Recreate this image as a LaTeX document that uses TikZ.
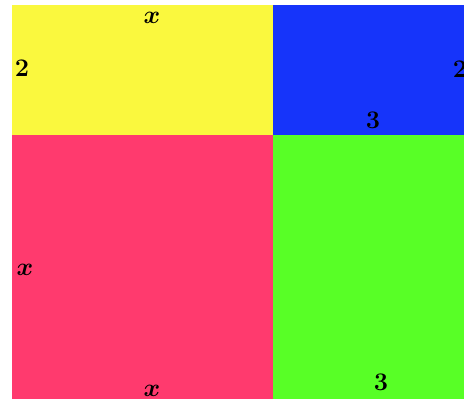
\documentclass[tikz,border=0pt]{standalone}
\usepackage{amsmath}
\usepackage{xcolor}
\definecolor{sqyellow}{RGB}{250,248,62}
\definecolor{sqblue}{RGB}{22,52,250}
\definecolor{sqred}{RGB}{255,58,110}
\definecolor{sqgreen}{RGB}{88,255,38}

\begin{document}
\begin{tikzpicture}[x=0.02cm,y=-0.02cm,
lbl/.style={font=\Large,inner sep=0pt}]
\useasboundingbox (0,0) rectangle (464,399);
\clip (0,0) rectangle (464,399);

\fill[sqyellow] (12,5) rectangle (273,135);
\fill[sqblue] (273,5) rectangle (490,135);
\fill[sqred] (12,135) rectangle (273,420);
\fill[sqgreen] (273,135) rectangle (490,420);

\node[lbl] (xt) at (152,18) {$\boldsymbol{x}$};
\node[lbl] (tl) at (22,68) {$\mathbf{2}$};
\node[lbl] (tr) at (460,69) {$\mathbf{2}$};
\node[lbl] (th) at (373,120) {$\mathbf{3}$};
\node[lbl] (xl) at (25,270) {$\boldsymbol{x}$};
\node[lbl] (xb) at (152,391) {$\boldsymbol{x}$};
\node[lbl] (tb) at (381,382) {$\mathbf{3}$};
\end{tikzpicture}
\end{document}
